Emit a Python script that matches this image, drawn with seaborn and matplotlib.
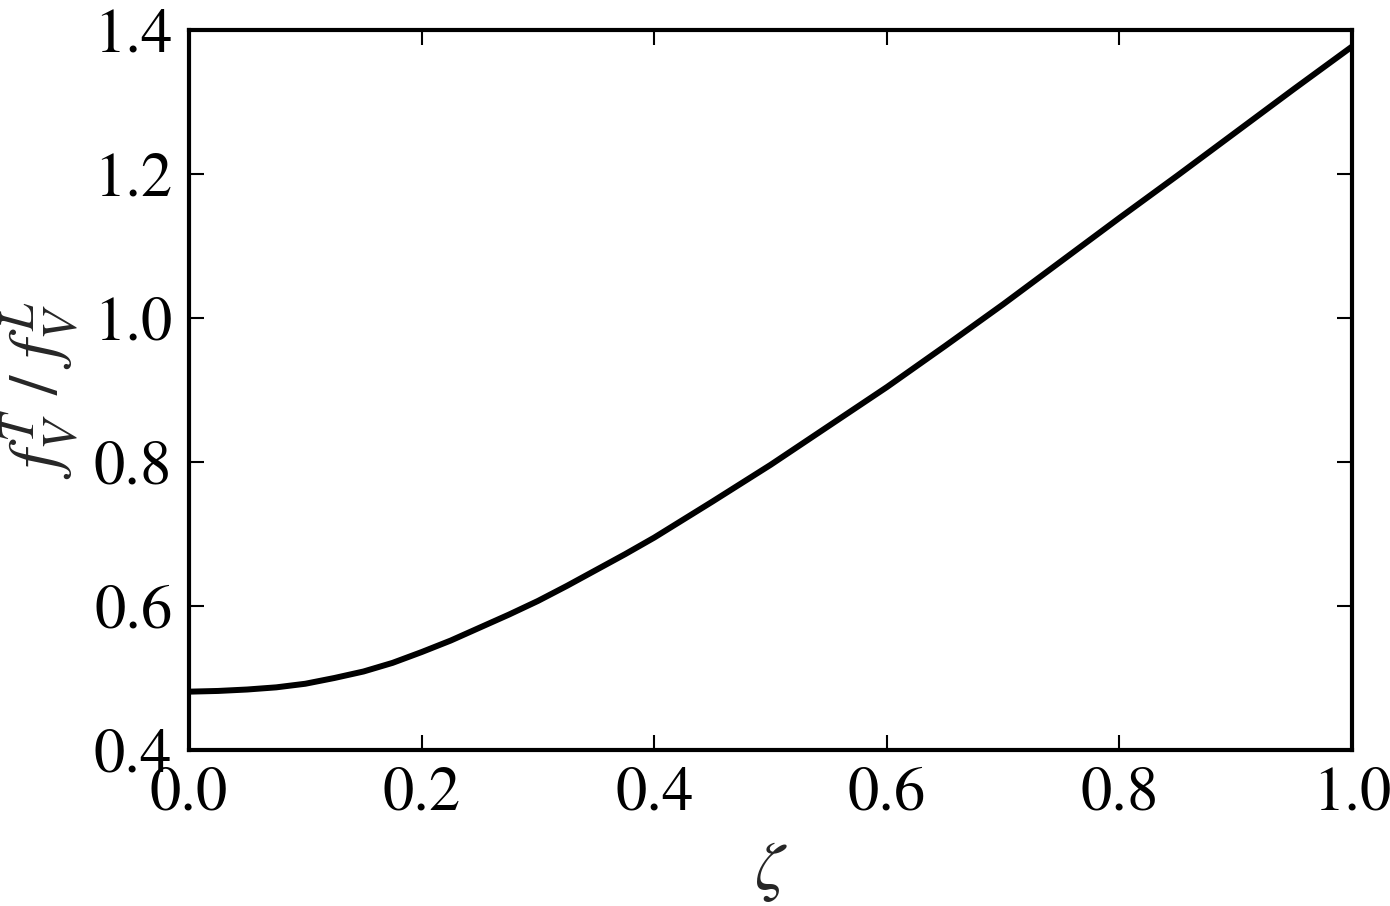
import numpy as np
import pandas as pd
import matplotlib
matplotlib.use("Agg")
import matplotlib.pyplot as plt
import seaborn as sns

# values
zeta = [0.000, 0.025, 0.050, 0.075, 0.100, 0.125, 0.150, 0.175, 0.200, 0.225,
        0.250, 0.275, 0.300, 0.325, 0.350, 0.375, 0.400, 0.450, 0.500, 0.550,
        0.600, 0.650, 0.700, 0.750, 0.800, 0.850, 0.900, 0.950, 1.000]
ratio = [0.481, 0.482, 0.484, 0.487, 0.492, 0.500, 0.509, 0.521, 0.536, 0.552,
         0.570, 0.588, 0.607, 0.628, 0.650, 0.672, 0.695, 0.745, 0.796, 0.850,
         0.904, 0.961, 1.019, 1.079, 1.139, 1.198, 1.258, 1.318, 1.377]

xticks = [0.0, 0.2, 0.4, 0.6, 0.8, 1.0]
yticks = [0.4, 0.6, 0.8, 1.0, 1.2, 1.4]

sns.set_theme(style="ticks")
plt.rcParams['font.family'] = ['STIXGeneral', 'Liberation Serif', 'DejaVu Serif']
plt.rcParams['mathtext.fontset'] = 'stix'

df = pd.DataFrame({"zeta": zeta, "ratio": ratio})

fig = plt.figure(figsize=(13.9, 9.06), dpi=100)
ax = fig.add_axes([0.136, 0.1722, 0.8367, 0.7947])
sns.lineplot(data=df, x="zeta", y="ratio", ax=ax, color="black", linewidth=4.3)

ax.set_xlim(0, 1)
ax.set_ylim(0.4, 1.4)
ax.set_xticks(xticks)
ax.set_yticks(yticks)
ax.set_xticklabels(["%.1f" % t for t in xticks])
ax.set_yticklabels(["%.1f" % t for t in yticks])
ax.tick_params(direction="in", length=11, width=1.5, top=True, right=True,
               labelsize=45, pad=12, color="black", labelcolor="black")
for s in ax.spines.values():
    s.set_linewidth(3)
    s.set_color("black")

ax.set_xlabel(r"$\zeta$", fontsize=48, labelpad=12)
ax.set_ylabel(r"$f_V^T\ /\ f_V^L$", fontsize=50, labelpad=10)

plt.savefig("out.png", dpi=100)
